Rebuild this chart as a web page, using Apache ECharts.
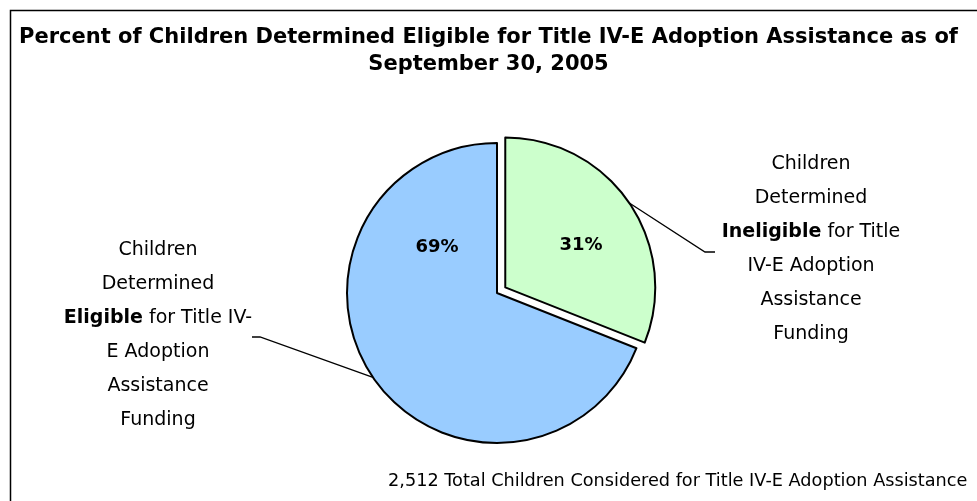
<!DOCTYPE html>
<html>
<head>
<meta charset="utf-8">
<script src="https://cdn.jsdelivr.net/npm/echarts@6/dist/echarts.min.js"></script>
<style>
html, body { margin: 0; padding: 0; background: #fff; }
#main { width: 977px; height: 501px; }
</style>
</head>
<body>
<div id="main"></div>
<script>
// data
var categories = ['Ineligible', 'Eligible'];
var percents = [31, 69];
var colors = ['#ccffcc', '#99ccff'];
var labelLines = [
    ['Children', 'Determined', '{b|Ineligible} for Title', 'IV-E Adoption', 'Assistance', 'Funding'],
    ['Children', 'Determined', '{b|Eligible} for Title IV-', 'E Adoption', 'Assistance', 'Funding']
];
var titleText = 'Percent of Children Determined Eligible for Title IV-E Adoption Assistance as of\nSeptember 30, 2005';
var footText = '2,512 Total Children Considered for Title IV-E Adoption Assistance';

var font = 'DejaVu Sans';
var cx = 497, cy = 293, radius = 150, explode = 10;
// label block centre + leader line elbow/end for each slice
var outerPos = [
    {x: 811, y: 249, elbow: [705, 252], end: [715, 252]},
    {x: 158, y: 335, elbow: [260, 337], end: [252, 337]}
];
// inner percent labels, relative to pie centre
var innerPos = [[84, -48], [-60, -46]];

var pieData = categories.map(function (c, i) {
    return {name: c, value: percents[i], selected: i === 0, itemStyle: {color: colors[i]}};
});
var plainData = categories.map(function (c, i) {
    return {name: c, value: percents[i]};
});

// offset of the exploded (first) slice, along its mid angle
var midAng = (90 - percents[0] / (percents[0] + percents[1]) * 180) * Math.PI / 180;
var exDx = explode * Math.cos(midAng), exDy = -explode * Math.sin(midAng);

var basePie = {
    type: 'pie',
    center: [cx, cy],
    radius: radius,
    startAngle: 90,
    clockwise: true,
    emphasis: {disabled: true}
};

var chart = echarts.init(document.getElementById('main'));
var option = {
    animation: false,
    title: {
        text: titleText,
        left: 'center',
        top: 19,
        textStyle: {fontFamily: font, fontSize: 21, fontWeight: 'bold', color: '#000', lineHeight: 27}
    },
    graphic: [
        {
            type: 'rect',
            shape: {x: 10.5, y: 10.5, width: 1000, height: 520},
            style: {fill: 'none', stroke: '#000', lineWidth: 1.5},
            silent: true
        },
        {
            type: 'text',
            left: 388,
            top: 472,
            style: {text: footText, fontFamily: font, fontSize: 17.7, fill: '#000'}
        }
    ],
    series: [
        // visible slices
        Object.assign({}, basePie, {
            selectedMode: 'multiple',
            selectedOffset: explode,
            data: pieData,
            itemStyle: {borderColor: '#000', borderWidth: 2},
            label: {show: false},
            labelLine: {show: false}
        }),
        // outside labels with leader lines
        Object.assign({}, basePie, {
            silent: true,
            data: plainData,
            itemStyle: {color: 'transparent', borderWidth: 0},
            label: {
                show: true,
                position: 'outside',
                formatter: function (p) { return labelLines[p.dataIndex].join('\n'); },
                fontFamily: font,
                fontSize: 19,
                lineHeight: 34,
                color: '#000',
                align: 'center',
                rich: {
                    b: {fontFamily: font, fontSize: 19, fontWeight: 'bold', lineHeight: 34, color: '#000'}
                }
            },
            labelLine: {show: true, length: 20, length2: 10, lineStyle: {color: '#000', width: 1.3}},
            labelLayout: function (params) {
                var p = outerPos[params.dataIndex];
                var s = params.labelLinePoints[0];
                var start = params.dataIndex === 0 ? [s[0] + exDx, s[1] + exDy] : s;
                return {
                    x: p.x,
                    y: p.y,
                    align: 'center',
                    verticalAlign: 'middle',
                    labelLinePoints: [start, p.elbow, p.end]
                };
            }
        }),
        // percent labels inside the slices
        Object.assign({}, basePie, {
            silent: true,
            data: plainData,
            itemStyle: {color: 'transparent', borderWidth: 0},
            label: {
                show: true,
                position: 'inside',
                formatter: '{c}%',
                fontFamily: font,
                fontSize: 18,
                fontWeight: 'bold',
                color: '#000'
            },
            labelLine: {show: false},
            labelLayout: function (params) {
                var d = innerPos[params.dataIndex];
                return {x: cx + d[0], y: cy + d[1], align: 'center', verticalAlign: 'middle'};
            }
        })
    ]
};
chart.setOption(option);
</script>
</body>
</html>
